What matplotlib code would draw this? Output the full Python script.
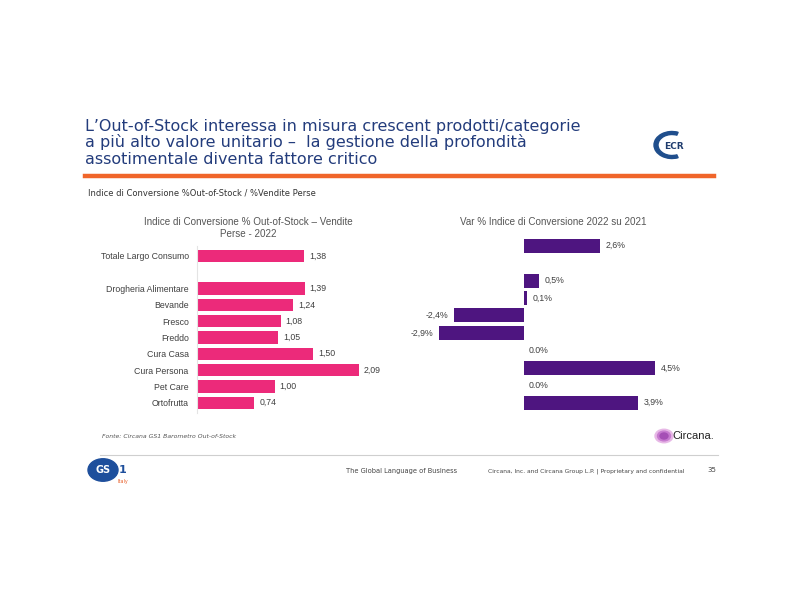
import matplotlib
matplotlib.use("Agg")
import matplotlib.pyplot as plt
from matplotlib.patches import Circle, Wedge
from matplotlib.lines import Line2D

categories = ["Totale Largo Consumo", "", "Drogheria Alimentare", "Bevande", "Fresco",
              "Freddo", "Cura Casa", "Cura Persona", "Pet Care", "Ortofrutta"]
index_2022 = [1.38, None, 1.39, 1.24, 1.08, 1.05, 1.50, 2.09, 1.00, 0.74]
var_pct = [2.6, None, 0.5, 0.1, -2.4, -2.9, 0.0, 4.5, 0.0, 3.9]

title_lines = ["L\u2019Out-of-Stock interessa in misura crescent prodotti/categorie",
               "a pi\u00f9 alto valore unitario \u2013  la gestione della profondit\u00e0",
               "assotimentale diventa fattore critico"]
subtitle = "Indice di Conversione %Out-of-Stock / %Vendite Perse"
left_title = "Indice di Conversione % Out-of-Stock \u2013 Vendite\nPerse - 2022"
right_title = "Var % Indice di Conversione 2022 su 2021"

PINK = "#EC2A7A"
PURPLE = "#4E1580"
GRAY = "#404040"
W, H = 800, 600

fig = plt.figure(figsize=(8, 6), dpi=100)
fig.patch.set_facecolor("white")

def fx(px):
    return px / W

def fy(py):
    return 1 - py / H

LAB = dict(family="Liberation Sans")

# Slide title
for i, line in enumerate(title_lines):
    fig.text(fx(85), fy(126 + i * 16.5), line, fontsize=11.5, color="#233C7C",
             family="DejaVu Sans", va="center", ha="left")
# orange rule
fig.add_artist(Line2D([fx(85), fx(714)], [fy(176), fy(176)], color="#F0652A", lw=3.2))
fig.text(fx(88), fy(193), subtitle, fontsize=6.05, color="#333333", va="center", family="DejaVu Sans")

# Left chart
axL = fig.add_axes([fx(197), fy(412.5), 193.75 / W, 166.3 / H])
ys = list(range(len(categories)))
for y, v in zip(ys, index_2022):
    if v is None:
        continue
    axL.barh(y, v, height=0.76, color=PINK)
    axL.text(v + 0.065, y, f"{v:.2f}".replace(".", ","), va="center", ha="left",
             fontsize=6.3, color=GRAY, **LAB)
axL.set_xlim(0, 2.5)
axL.set_ylim(9.6, -0.6)
axL.set_yticks([y for y, c in zip(ys, categories) if c])
axL.set_yticklabels([c for c in categories if c], fontsize=6.35, color=GRAY, **LAB)
axL.tick_params(axis="y", length=0, pad=6)
axL.set_xticks([])
for s in ["top", "right", "bottom"]:
    axL.spines[s].set_visible(False)
axL.spines["left"].set_color("#e4e4e4")
axL.spines["left"].set_linewidth(0.8)
axL.patch.set_alpha(0)
fig.text(fx(248), fy(228), left_title, ha="center", va="center", fontsize=7.15,
         color="#555555", linespacing=1.15, **LAB)

# Right chart
axR = fig.add_axes([fx(421.8), fy(413.2), 262.8 / W, 178 / H])
for y, v in zip(ys, var_pct):
    if v is None:
        continue
    axR.barh(y, v, height=0.8, color=PURPLE)
    lbl = f"{v:.1f}%".replace(".", ",")
    if v == 0:
        lbl = f"{v:.1f}%"
        axR.text(0.15, y, lbl, va="center", ha="left", fontsize=6.3, color=GRAY, **LAB)
    elif v > 0:
        axR.text(v + 0.2, y, lbl, va="center", ha="left", fontsize=6.3, color=GRAY, **LAB)
    else:
        axR.text(v - 0.2, y, lbl, va="center", ha="right", fontsize=6.3, color=GRAY, **LAB)
axR.set_xlim(-3.5, 5.5)
axR.set_ylim(9.6, -0.6)
axR.axis("off")
fig.text(fx(553), fy(222), right_title, ha="center", va="center", fontsize=7.15,
         color="#555555", **LAB)

# Footer
fig.text(fx(102), fy(436), "Fonte: Circana GS1 Barometro Out-of-Stock", fontsize=4.4,
         color="#555555", style="italic", va="center", family="DejaVu Sans")
fig.add_artist(Line2D([fx(100), fx(718)], [fy(455), fy(455)], color="#cfcfcf", lw=0.8))
fig.text(fx(346), fy(471), "The Global Language of Business", fontsize=4.75, color="#444444",
         va="center", family="DejaVu Sans")
fig.text(fx(488), fy(471), "Circana, Inc. and Circana Group L.P. | Proprietary and confidential",
         fontsize=4.3, color="#444444", va="center", family="DejaVu Sans")
fig.text(fx(707), fy(470), "35", fontsize=5, color="#444444", va="center", family="DejaVu Sans")

# Logos (approximate)
# ECR
fig.add_artist(Wedge((fx(672), fy(145)), 18 / W, 70, 290, width=4 / W, color="#1F4E8C",
                     transform=fig.transFigure))
fig.text(fx(664), fy(146), "ECR", fontsize=6.5, weight="bold", color="#1F3C6E", va="center")
# Circana
for k, c in enumerate(["#E7B8E6", "#C77BD0", "#A54FB5"]):
    fig.add_artist(Circle((fx(664), fy(436)), (9 - k * 2.5) / W, color=c,
                          transform=fig.transFigure))
fig.text(fx(672), fy(436), "Circana.", fontsize=8, color="#222222", va="center", **LAB)
# GS1
fig.add_artist(Circle((fx(103), fy(470)), 15 / W, color="#1E4F9C", transform=fig.transFigure))
fig.text(fx(103), fy(470), "GS", fontsize=7, color="white", va="center", ha="center", weight="bold")
fig.text(fx(119), fy(470), "1", fontsize=8, color="#1E4F9C", va="center", ha="left", weight="bold")
fig.text(fx(118), fy(482), "Italy", fontsize=3.5, color="#E8612C", va="center", ha="left")

fig.savefig("out.png", dpi=100, facecolor="white")
